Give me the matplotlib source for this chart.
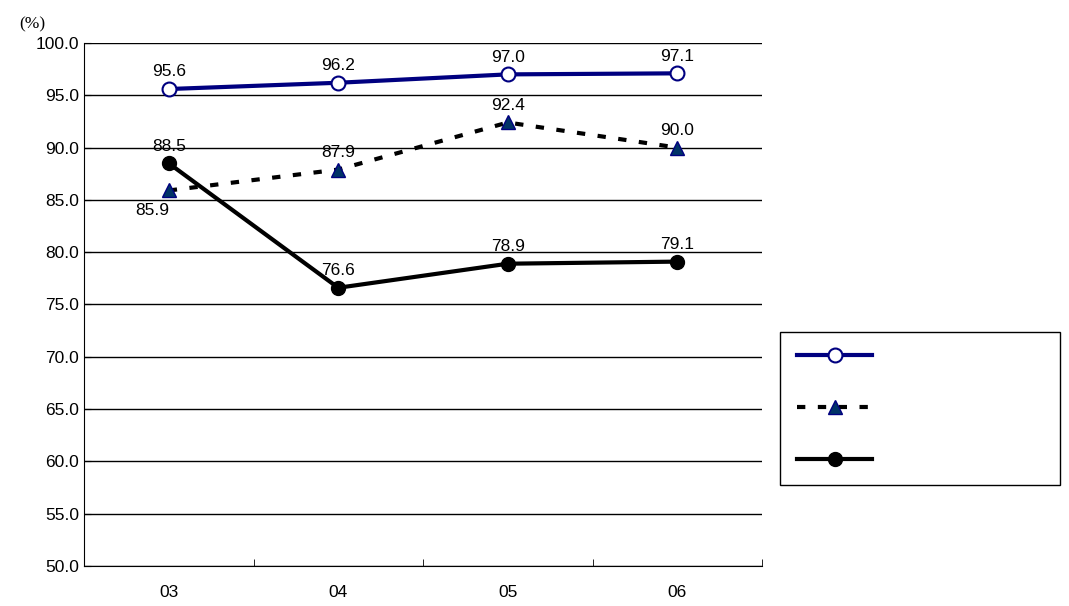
import numpy as np
import matplotlib.pyplot as plt

plt.rcParams.update({'font.family': ['Liberation Sans', 'DejaVu Sans'], 'font.size': 12.5})

years = ["03", "04", "05", "06"]
series_a = [95.6, 96.2, 97.0, 97.1]
series_b = [85.9, 87.9, 92.4, 90.0]
series_c = [88.5, 76.6, 78.9, 79.1]
labels = ["", "", ""]

fig = plt.figure(figsize=(10.69, 6.06), dpi=100)
ax = fig.add_axes([84/1069, 40/606, 678/1069, 523/606])
x = np.arange(len(years))

la, = ax.plot(x, series_a, color="#000080", lw=3, marker="o", ms=10, mfc="white", mec="#000080", mew=1.5, zorder=4)
lb, = ax.plot(x, series_b, color="black", lw=3, ls=(0, (2, 3)), marker="^", ms=10, mfc="#003366", mec="#000080", zorder=4)
lc, = ax.plot(x, series_c, color="black", lw=3, marker="o", ms=10, mfc="black", mec="black", zorder=4)

for xi, v in zip(x, series_a):
    ax.annotate(f"{v:.1f}", (xi, v), xytext=(0, 7), textcoords="offset points", ha="center", va="bottom")
for xi, v in zip(x, series_b):
    off = -9 if xi == 0 else 7
    ax.annotate(f"{v:.1f}", (xi, v), xytext=(-12 if xi == 0 else 0, off), textcoords="offset points",
                ha="center", va="top" if off < 0 else "bottom")
for xi, v in zip(x, series_c):
    ax.annotate(f"{v:.1f}", (xi, v), xytext=(0, 7), textcoords="offset points", ha="center", va="bottom")

ax.set_xlim(-0.5, 3.5)
ax.set_ylim(50, 100)
ax.set_yticks(np.arange(50, 100.1, 5))
ax.set_yticklabels([f"{v:.1f}" for v in np.arange(50, 100.1, 5)])
ax.yaxis.grid(True, color="black", lw=1)
ax.set_xticks(x)
ax.set_xticklabels(years)
ax.set_xticks(np.arange(-0.5, 3.6, 1), minor=True)
ax.tick_params(axis="x", which="major", length=0, pad=14)
ax.tick_params(axis="x", which="minor", length=5, direction="in")
ax.tick_params(axis="y", length=5, direction="in")
for s in ["top", "right"]:
    ax.spines[s].set_visible(False)
ax.text(-0.095, 1.02, "(%)", transform=ax.transAxes, ha="left", va="bottom", family="Liberation Serif")

leg = fig.legend([la, lb, lc], labels, loc="upper left",
                 bbox_to_anchor=(780/1069, 1 - 484/606, 280/1069, 152/606), mode="expand",
                 borderaxespad=0, handlelength=4.3, labelspacing=2.1, borderpad=1.0,
                 fancybox=False, edgecolor="black", framealpha=1)
leg.get_frame().set_linewidth(1)

fig.savefig("out.png", dpi=100)
